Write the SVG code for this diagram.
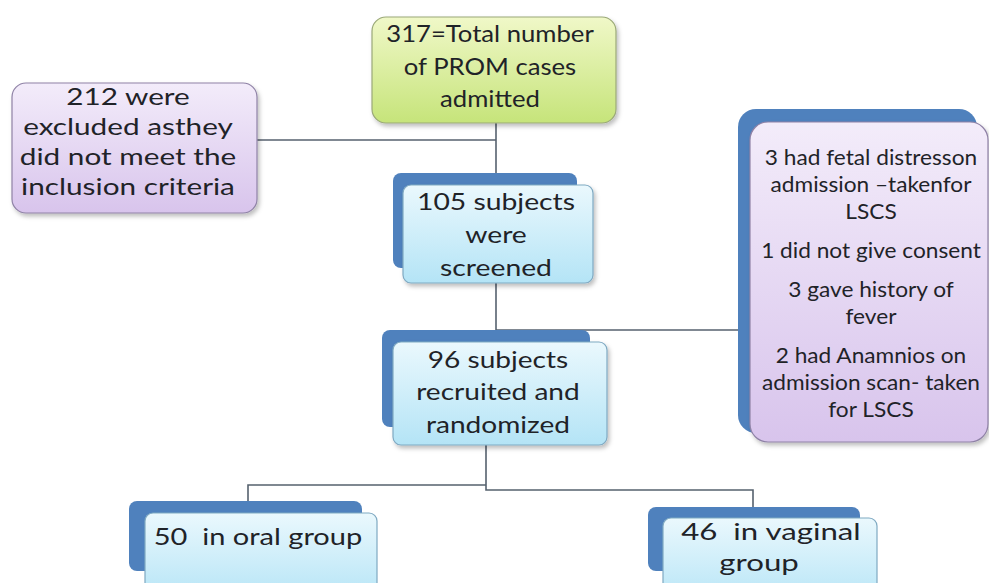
<svg xmlns="http://www.w3.org/2000/svg" width="989" height="583" viewBox="0 0 989 583">
<defs>
<linearGradient id="gGreen" x1="0" y1="0" x2="0" y2="1"><stop offset="0" stop-color="#f0f8c8"/><stop offset="1" stop-color="#c6e47a"/></linearGradient>
<linearGradient id="gPurple" x1="0" y1="0" x2="0" y2="1"><stop offset="0" stop-color="#f3ecfa"/><stop offset="1" stop-color="#d8c4ec"/></linearGradient>
<linearGradient id="gBlue" x1="0" y1="0" x2="0" y2="1"><stop offset="0" stop-color="#eaf8fd"/><stop offset="1" stop-color="#b4e4f6"/></linearGradient>
<filter id="sh" x="-10%" y="-10%" width="130%" height="130%"><feDropShadow dx="2" dy="3" stdDeviation="2" flood-color="#000" flood-opacity="0.25"/></filter>
</defs>
<style>
.t{font-family:Lato,"Open Sans","DejaVu Sans",sans-serif;fill:#1f2328;text-anchor:middle;white-space:pre}
.big{font-size:24px}
.sm{font-size:21px}
.back{fill:#4f81bd}
.green{fill:url(#gGreen);stroke:#9aa878;stroke-width:1.2}
.purple{fill:url(#gPurple);stroke:#8f82a6;stroke-width:1.2}
.blue{fill:url(#gBlue);stroke:#7fa9c2;stroke-width:1.2}
.c{fill:none;stroke:#56616e;stroke-width:1.6}
</style>
<rect width="989" height="583" fill="#ffffff"/>
<g id="connectors">
<path class="c" d="M496 123 V330"/>
<path class="c" d="M257 140 H496"/>
<path class="c" d="M496 330 H740"/>
<path class="c" d="M486 445 V490 H753 V508"/>
<path class="c" d="M486 485 H248 V502"/>
</g>
<g id="n317">
<rect class="green" x="372" y="17" width="244" height="106" rx="14" filter="url(#sh)"/>
<g transform="matrix(1.07 0 0 1 -34.3 0)">
<text class="t big" x="490" y="42">317=Total number</text>
<text class="t big" x="490" y="75">of PROM cases</text>
<text class="t big" x="490" y="107">admitted</text>
</g>
</g>
<g id="n212">
<rect class="purple" x="12" y="83" width="245" height="130" rx="14" filter="url(#sh)"/>
<g transform="matrix(1.24 0 0 1 -30.72 0)">
<text class="t big" x="128" y="105">212 were</text>
<text class="t big" x="128" y="135">excluded asthey</text>
<text class="t big" x="128" y="165">did not meet the</text>
<text class="t big" x="128" y="195">inclusion criteria</text>
</g>
</g>
<g id="n105">
<rect class="back" x="393" y="173" width="184" height="95" rx="8"/>
<rect class="blue" x="403" y="185" width="190" height="98" rx="8" filter="url(#sh)"/>
<g transform="matrix(1.18 0 0 1 -89.28 0)">
<text class="t big" x="496" y="210">105 subjects</text>
<text class="t big" x="496" y="243">were</text>
<text class="t big" x="496" y="276">screened</text>
</g>
</g>
<g id="n96">
<rect class="back" x="382" y="330" width="208" height="97" rx="8"/>
<rect class="blue" x="393" y="342" width="214" height="103" rx="8" filter="url(#sh)"/>
<g transform="matrix(1.17 0 0 1 -84.66 0)">
<text class="t big" x="498" y="368">96 subjects</text>
<text class="t big" x="498" y="400">recruited and</text>
<text class="t big" x="498" y="433">randomized</text>
</g>
</g>
<g id="nExcl">
<rect class="back" x="738" y="109" width="239" height="324" rx="18"/>
<rect class="purple" x="750" y="122" width="238" height="320" rx="18" filter="url(#sh)"/>
<g transform="matrix(1.08 0 0 1 -69.68 0)">
<text class="t sm" x="871" y="165">3 had fetal distresson</text>
<text class="t sm" x="871" y="192">admission –takenfor</text>
<text class="t sm" x="871" y="219">LSCS</text>
<text class="t sm" x="871" y="258">1 did not give consent</text>
<text class="t sm" x="871" y="297">3 gave history of</text>
<text class="t sm" x="871" y="324">fever</text>
<text class="t sm" x="871" y="363">2 had Anamnios on</text>
<text class="t sm" x="871" y="390">admission scan- taken</text>
<text class="t sm" x="871" y="417">for LSCS</text>
</g>
</g>
<g id="nOral">
<rect class="back" x="129" y="501" width="233" height="70" rx="8"/>
<rect class="blue" x="145" y="513" width="232" height="90" rx="8"/>
<g transform="matrix(1.21 0 0 1 -54.18 0)">
<text class="t big" x="258" y="545">50  in oral group</text>
</g>
</g>
<g id="nVaginal">
<rect class="back" x="648" y="507" width="212" height="64" rx="8"/>
<rect class="blue" x="663" y="518" width="214" height="90" rx="8"/>
<g transform="matrix(1.3 0 0 1 -229.5 0)">
<text class="t big" x="769.6" y="540">46  in vaginal</text>
<text class="t big" x="760.4" y="571">group</text>
</g>
</g>
</svg>
